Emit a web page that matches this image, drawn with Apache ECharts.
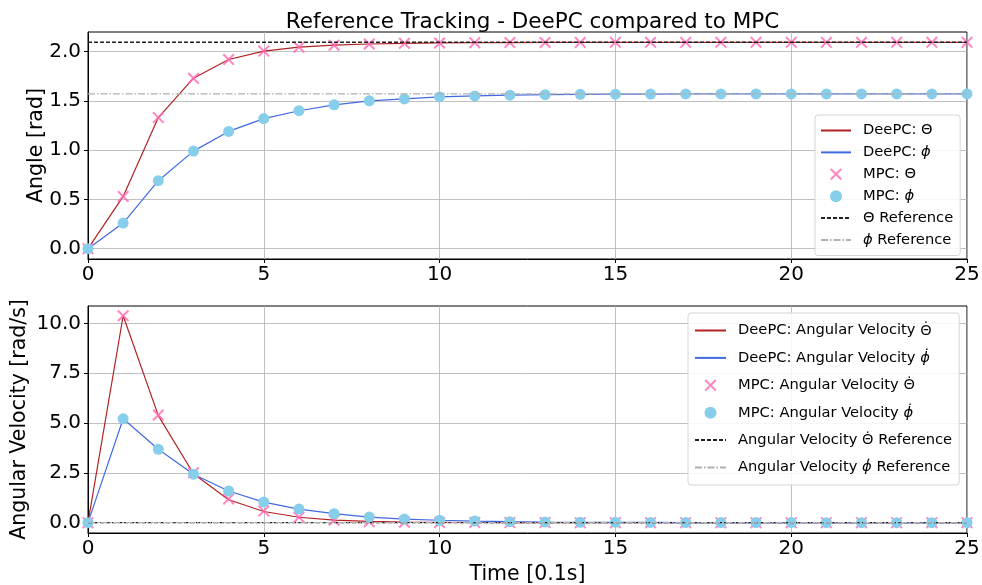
<!DOCTYPE html>
<html><head><meta charset="utf-8">
<script src="https://cdn.jsdelivr.net/npm/echarts@6/dist/echarts.min.js"></script>
<style>html,body{margin:0;padding:0;background:#fff}#c{width:982px;height:585px}</style>
</head><body><div id="c"></div>
<script>
// ---- data ----
const time = [0,1,2,3,4,5,6,7,8,9,10,11,12,13,14,15,16,17,18,19,20,21,22,23,24,25];
const xTicks = [0,5,10,15,20,25];
const yTicksTop = [0,0.5,1.0,1.5,2.0];
const yTicksBottom = [0,2.5,5.0,7.5,10.0];

const deepcTheta = [0,0.53,1.33,1.73,1.92,2.005,2.045,2.065,2.077,2.084,2.088,2.091,2.092,2.093,2.0935,2.094,2.094,2.094,2.094,2.094,2.094,2.094,2.094,2.094,2.094,2.094];
const mpcTheta   = [0,0.53,1.33,1.73,1.92,2.005,2.045,2.065,2.077,2.084,2.088,2.091,2.092,2.093,2.0935,2.094,2.094,2.094,2.094,2.094,2.094,2.094,2.094,2.094,2.094,2.094];
const deepcPhi   = [0,0.26,0.69,0.99,1.19,1.32,1.40,1.46,1.50,1.52,1.54,1.55,1.558,1.563,1.566,1.568,1.569,1.5700,1.5704,1.5706,1.5707,1.5708,1.5708,1.5708,1.5708,1.5708];
const mpcPhi     = [0,0.26,0.69,0.99,1.19,1.32,1.40,1.46,1.50,1.52,1.54,1.55,1.558,1.563,1.566,1.568,1.569,1.5700,1.5704,1.5706,1.5707,1.5708,1.5708,1.5708,1.5708,1.5708];
const thetaRef = 2.0944;
const phiRef = 1.5708;

const deepcThetaDot = [0,10.38,5.37,2.45,1.15,0.56,0.27,0.13,0.06,0.03,0.015,0.007,0.003,0.002,0.001,0,0,0,0,0,0,0,0,0,0,0];
const mpcThetaDot   = [0,10.38,5.40,2.50,1.19,0.58,0.27,0.12,0.05,0.02,0.01,0.005,0.002,0.001,0,0,0,0,0,0,0,0,0,0,0,0];
const deepcPhiDot   = [0,5.21,3.68,2.43,1.59,1.03,0.68,0.45,0.28,0.18,0.12,0.08,0.05,0.03,0.02,0.015,0.01,0.005,0.003,0.002,0.001,0,0,0,0,0];
const mpcPhiDot     = [0,5.21,3.68,2.43,1.59,1.03,0.68,0.45,0.28,0.18,0.12,0.08,0.05,0.03,0.02,0.015,0.01,0.005,0.003,0.002,0.001,0,0,0,0,0];
const thetaDotRef = 0;
const phiDotRef = 0;

// ---- chart ----
const FONT = 'DejaVu Sans';
const chart = echarts.init(document.getElementById('c'), null, {renderer: 'canvas'});
const pairs = ys => time.map((t, i) => [t, ys[i]]);
const refLine = v => [[time[0], v], [time[time.length - 1], v]];
const X_PATH = 'path://M0,1.2 L1.2,0 L5,3.8 L8.8,0 L10,1.2 L6.2,5 L10,8.8 L8.8,10 L5,6.2 L1.2,10 L0,8.8 L3.8,5 Z';

const gridLine = {show: true, lineStyle: {color: '#b0b0b0', width: 0.8}};
function xAx(idx, withName) {
  return {
    type: 'value', gridIndex: idx, min: xTicks[0], max: xTicks[xTicks.length - 1], interval: 5,
    axisLine: {show: true, onZero: false, lineStyle: {color: '#000', width: 1}},
    axisTick: {show: true, inside: false, length: 4, lineStyle: {color: '#000'}},
    axisLabel: {color: '#000', fontSize: 20, fontFamily: FONT, margin: 6},
    splitLine: gridLine,
    name: withName ? 'Time [0.1s]' : '', nameLocation: 'middle', nameGap: 31, nameMoveOverlap: false,
    nameTextStyle: {color: '#000', fontSize: 20.5, fontFamily: FONT}
  };
}
function yAx(idx, mn, mx, ticks, name, gap) {
  return {
    type: 'value', gridIndex: idx, min: mn, max: mx,
    axisLine: {show: true, onZero: false, lineStyle: {color: '#000', width: 1}},
    axisTick: {show: true, inside: false, length: 4, lineStyle: {color: '#000'}, customValues: ticks},
    axisLabel: {color: '#000', fontSize: 20, fontFamily: FONT, margin: 7, customValues: ticks,
      formatter: v => Number(v).toFixed(1)},
    splitLine: gridLine,
    name: name, nameLocation: 'middle', nameGap: gap, nameRotate: 90, nameMoveOverlap: false,
    nameTextStyle: {color: '#000', fontSize: 20.5, fontFamily: FONT}
  };
}
function lineS(name, ax, ys, color, type) {
  return {name, type: 'line', xAxisIndex: ax, yAxisIndex: ax, data: pairs(ys), symbol: 'none',
    lineStyle: {color, width: 1.2, type: type || 'solid'}, itemStyle: {color}, silent: true, z: 2};
}
function refS(name, ax, v, color, type, w) {
  return {name, type: 'line', xAxisIndex: ax, yAxisIndex: ax, data: refLine(v), symbol: 'none',
    lineStyle: {color, width: w, type}, itemStyle: {color}, silent: true, z: 4};
}
function xS(name, ax, ys) {
  return {name, type: 'scatter', xAxisIndex: ax, yAxisIndex: ax, data: pairs(ys), symbol: X_PATH,
    symbolSize: 12, itemStyle: {color: '#ff69b4'}, silent: true, z: 3};
}
function dotS(name, ax, ys) {
  return {name, type: 'scatter', xAxisIndex: ax, yAxisIndex: ax, data: pairs(ys), symbol: 'circle',
    symbolSize: 11, itemStyle: {color: '#87ceeb', opacity: 1}, silent: true, z: 3};
}
const LFS = 14.7;
const legendText = {
  color: '#000', fontSize: LFS, fontFamily: FONT, padding: [0, 0, 0, 7],
  rich: {
    i: {fontStyle: 'italic', fontSize: LFS, fontFamily: FONT, color: '#000'},
    t: {fontSize: LFS, fontFamily: 'Noto Sans', color: '#000'}
  }
};
const fmt = name => name
  .replace(/Θ\u0307/g, '{t|Θ\u0307}')
  .replace(/ϕ\u0307|ϕ/g, m => '{i|' + m + '}');

const topNames = ['DeePC: Θ', 'DeePC: ϕ', 'MPC: Θ', 'MPC: ϕ', 'Θ Reference', 'ϕ Reference'];
const botNames = ['DeePC: Angular Velocity Θ\u0307', 'DeePC: Angular Velocity ϕ\u0307',
  'MPC: Angular Velocity Θ\u0307', 'MPC: Angular Velocity ϕ\u0307',
  'Angular Velocity Θ\u0307 Reference', 'Angular Velocity ϕ\u0307 Reference'];
const isLineIdx = i => i !== 2 && i !== 3;
const legendData = names => names.map((n, i) => isLineIdx(i) ? {name: n, itemStyle: {opacity: 0}} : {name: n});

chart.setOption({
  animation: false,
  backgroundColor: '#fff',
  title: {text: 'Reference Tracking - DeePC compared to MPC', left: 527.5, textAlign: 'center', top: 6,
    textStyle: {color: '#000', fontSize: 21.5, fontWeight: 'normal', fontFamily: FONT}},
  grid: [
    {left: 88, right: 15, top: 32, height: 227, show: true, borderColor: '#000', borderWidth: 1,
      containLabel: false, outerBoundsMode: 'none'},
    {left: 88, right: 15, top: 306, height: 227, show: true, borderColor: '#000', borderWidth: 1,
      containLabel: false, outerBoundsMode: 'none'}
  ],
  legend: [
    {data: legendData(topNames), orient: 'vertical', left: 815, top: 115, itemWidth: 30, itemHeight: 12, itemGap: 6.9,
      padding: [8, 7, 8, 5], backgroundColor: 'rgba(255,255,255,0.85)', borderColor: '#d5d5d5', borderWidth: 1,
      borderRadius: 3, selectedMode: false, textStyle: legendText, formatter: fmt},
    {data: legendData(botNames), orient: 'vertical', left: 688, top: 313, itemWidth: 31, itemHeight: 12, itemGap: 12.4,
      padding: [10, 7, 10, 6], backgroundColor: 'rgba(255,255,255,0.85)', borderColor: '#d5d5d5', borderWidth: 1,
      borderRadius: 3, selectedMode: false, textStyle: legendText, formatter: fmt}
  ],
  xAxis: [xAx(0, false), xAx(1, true)],
  yAxis: [yAx(0, -0.105, 2.199, yTicksTop, 'Angle [rad]', 41), yAx(1, -0.52, 10.87, yTicksBottom, 'Angular Velocity [rad/s]', 58)],
  series: [
    lineS(topNames[0], 0, deepcTheta, '#b22222'),
    lineS(topNames[1], 0, deepcPhi, '#4169e1'),
    xS(topNames[2], 0, mpcTheta),
    dotS(topNames[3], 0, mpcPhi),
    refS(topNames[4], 0, thetaRef, '#222222', [4, 2], 1.4),
    refS(topNames[5], 0, phiRef, '#b0b0b0', [7, 2, 1.5, 2], 1.2),
    lineS(botNames[0], 1, deepcThetaDot, '#b22222'),
    lineS(botNames[1], 1, deepcPhiDot, '#4169e1'),
    xS(botNames[2], 1, mpcThetaDot),
    dotS(botNames[3], 1, mpcPhiDot),
    refS(botNames[4], 1, thetaDotRef, '#222222', [4, 2], 1.4),
    refS(botNames[5], 1, phiDotRef, '#b0b0b0', [7, 2, 1.5, 2], 1.2)
  ]
});
</script></body></html>
